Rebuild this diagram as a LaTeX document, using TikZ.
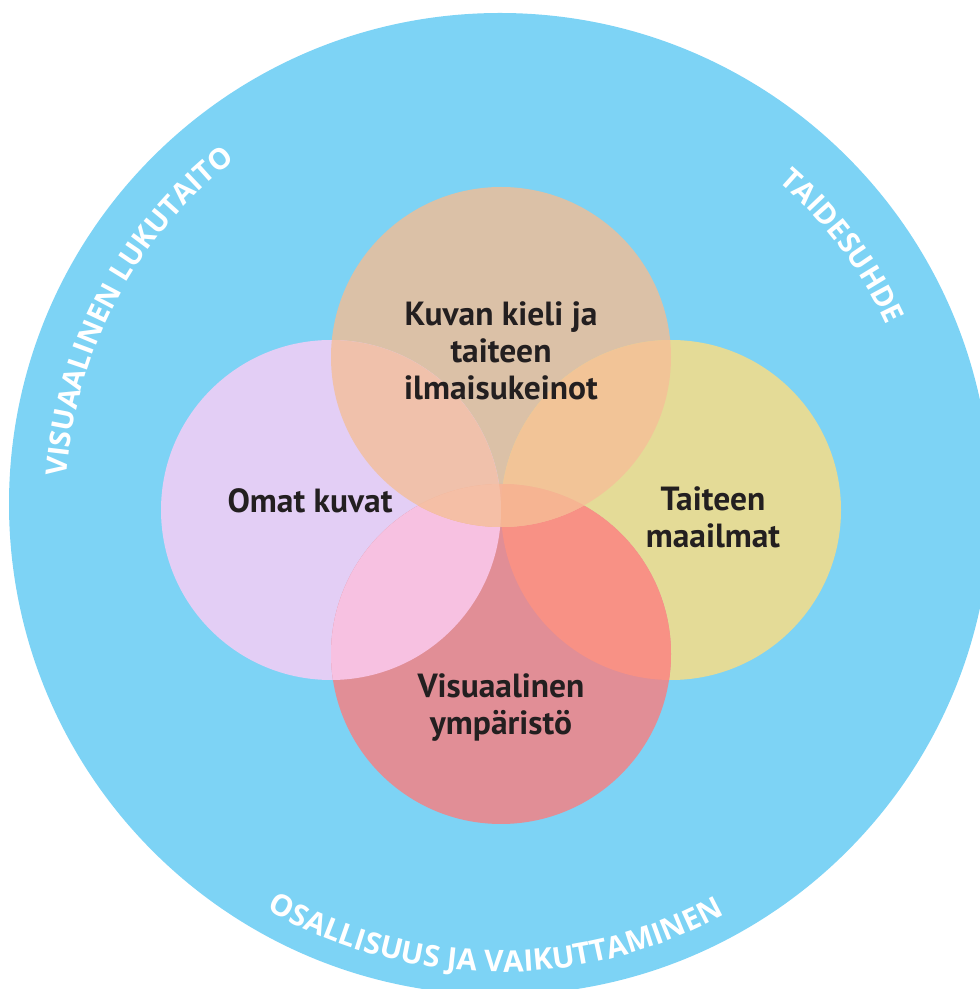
\documentclass[tikz,border=0pt]{standalone}
\usepackage{fontspec}
\setmainfont{PT Sans}
\newfontfamily\arcfam{Open Sans}
\usetikzlibrary{decorations.text}
\definecolor{bgblue}{HTML}{7DD3F5}
\definecolor{ctop}{HTML}{DBC1A7}
\definecolor{cleft}{HTML}{E3CEF5}
\definecolor{cright}{HTML}{E4DB97}
\definecolor{cbottom}{HTML}{E18E96}
\definecolor{cTL}{HTML}{F0C1AB}
\definecolor{cTR}{HTML}{F2C497}
\definecolor{cBL}{HTML}{F7C1E1}
\definecolor{cBR}{HTML}{F89185}
\definecolor{cTB}{HTML}{F5B497}
\definecolor{cTBL}{HTML}{F5BFA6}
\definecolor{cTBR}{HTML}{F6B492}
\definecolor{labeltext}{HTML}{231F20}
\newcommand{\arcfont}{\arcfam\bfseries\fontsize{29}{29}\selectfont}
\newcommand{\arcfontB}{\arcfam\bfseries\fontsize{29.8}{29.8}\selectfont}
\begin{document}
\begin{tikzpicture}[x=1pt,y=1pt,
  lbl/.style={font=\bfseries\fontsize{33.5}{37}\selectfont, text=labeltext, align=center, inner sep=0pt},
  arctext/.style={decorate, decoration={text along path, text align=center, text color=white, text={#1}}}]
\useasboundingbox (0,0) rectangle (980,989);
\clip (0,0) rectangle (980,989);
\coordinate (O) at (500,485);
\coordinate (T) at (501,632);
\coordinate (L) at (331,479);
\coordinate (R) at (671,479);
\coordinate (B) at (501,335);
\fill[bgblue] (O) circle[radius=491];
% single circles
\fill[ctop] (T) circle[radius=170];
\fill[cleft] (L) circle[radius=170];
\fill[cright] (R) circle[radius=170];
\fill[cbottom] (B) circle[radius=170];
% bottom overlaps
\begin{scope}
  \clip (B) circle[radius=170];
  \fill[cBL] (L) circle[radius=170];
  \fill[cBR] (R) circle[radius=170];
\end{scope}
% top overlaps
\begin{scope}
  \clip (T) circle[radius=170];
  \fill[cTL] (L) circle[radius=170];
  \fill[cTR] (R) circle[radius=170];
  \fill[cTB] (B) circle[radius=170];
  \clip (B) circle[radius=170];
  \fill[cTBL] (L) circle[radius=170];
  \fill[cTBR] (R) circle[radius=170];
\end{scope}
% labels
\node[lbl] (ltop) at (501,638) {Kuvan kieli ja\\taiteen\\ilmaisukeinot};
\node[lbl, anchor=base] (lleft) at (310,476.3) {Omat kuvat};
\node[lbl] (lright) at (713,471.5) {Taiteen\\maailmat};
\node[lbl] (lbottom) at (501,281) {Visuaalinen\\ympäristö};
% curved texts
\begin{scope}
\arcfont
\path[arctext={VISUAALINEN LUKUTAITO}] ([shift={(182:434)}]O) arc[start angle=182, end angle=122, radius=434];
\path[arctext={TAIDESUHDE}] ([shift={(62:426)}]O) arc[start angle=62, end angle=12, radius=426];
\end{scope}
\begin{scope}
\arcfontB
\path[arctext={OSALLISUUS JA VAIKUTTAMINEN}] ([shift={(-130.6:468)}]O) arc[start angle=-130.6, end angle=-50.6, radius=468];
\end{scope}
\end{tikzpicture}
\end{document}
